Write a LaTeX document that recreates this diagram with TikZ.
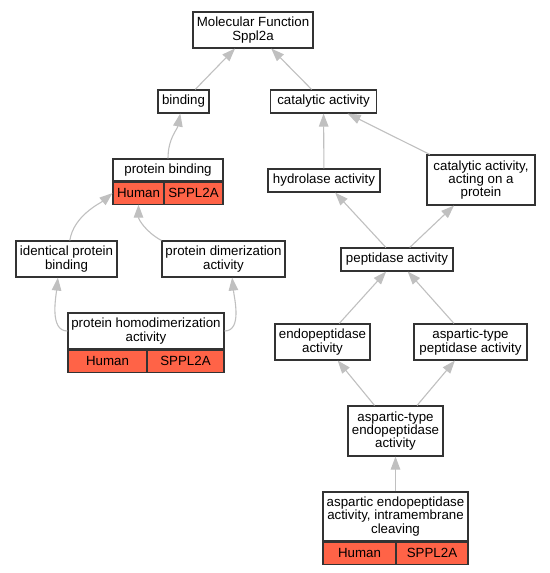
\documentclass[tikz,border=0pt]{standalone}
\usepackage{fontspec}
\setmainfont{Liberation Sans}
\usetikzlibrary{arrows.meta,positioning}
\definecolor{tomato}{RGB}{255,99,71}
\definecolor{edgegray}{RGB}{192,192,192}
\definecolor{boxline}{RGB}{51,51,51}
\tikzset{
  term/.style={draw=boxline,line width=1.1pt,fill=white,align=center,inner sep=0pt,
    font=\fontsize{13.3}{13.3}\selectfont},
  cell/.style={term,fill=tomato,minimum height=22},
  isa/.style={draw=edgegray,line width=1.1pt,-{Triangle[length=13pt,width=9.5pt]}}
}
\begin{document}
\begin{tikzpicture}[x=1pt,y=-1pt]
		\fill[white] (0,0) rectangle (549,573);
		\useasboundingbox (0,0) rectangle (549,573);
		% terms
		\node[term,minimum width=120,minimum height=36] (mf) at (253,30) {Molecular Function\\Sppl2a};
		\node[term,minimum width=51,minimum height=23] (bind) at (183.5,101.5) {binding};
		\node[term,minimum width=106,minimum height=23] (cat) at (323.5,101.5) {catalytic activity};
		\node[term,minimum width=110,minimum height=22] (pb) at (168,170) {protein binding};
		\node[cell,minimum width=51,anchor=north west] (pbh) at (pb.south west) {Human};
		\node[cell,minimum width=59,anchor=north east] (pbs) at (pb.south east) {SPPL2A};
		\node[term,minimum width=112,minimum height=23] (hyd) at (324,180.5) {hydrolase activity};
		\node[term,minimum width=108,minimum height=50] (caa) at (481,180) {catalytic activity,\\acting on a\\protein};
		\node[term,minimum width=101,minimum height=36] (ipb) at (66.5,259) {identical protein\\binding};
		\node[term,minimum width=123,minimum height=36] (pdim) at (223.5,259) {protein dimerization\\activity};
		\node[term,minimum width=112,minimum height=23] (pep) at (397,259.5) {peptidase activity};
		\node[term,minimum width=156,minimum height=36] (phd) at (146,331) {protein homodimerization\\activity};
		\node[cell,minimum width=79,anchor=north west] (phdh) at (phd.south west) {Human};
		\node[cell,minimum width=77,anchor=north east] (phds) at (phd.south east) {SPPL2A};
		\node[term,minimum width=95,minimum height=36] (endo) at (322.5,342) {endopeptidase\\activity};
		\node[term,minimum width=113,minimum height=36] (atp) at (470.5,342) {aspartic-type\\peptidase activity};
		\node[term,minimum width=95,minimum height=50] (ate) at (395.5,431) {aspartic-type\\endopeptidase\\activity};
		\node[term,minimum width=145,minimum height=49] (aic) at (395.5,516.5) {aspartic endopeptidase\\activity, intramembrane\\cleaving};
		\node[cell,minimum width=73,anchor=north west] (aich) at (aic.south west) {Human};
		\node[cell,minimum width=72,anchor=north east] (aics) at (aic.south east) {SPPL2A};
		% is_a links
		\draw[isa] (bind) -- (mf);
		\draw[isa] (cat) -- (mf);
		\draw[isa] (pb.north) .. controls +(0,-20) and +(-3,16) .. (bind.255);
		\draw[isa] (hyd) -- (cat);
		\draw[isa] (caa) -- (cat);
		\draw[isa] (ipb.80) .. controls +(4,-25) and +(-12,10) .. (pbh.west);
		\draw[isa] (pdim.north west) .. controls +(-15,-8) and +(0,15) .. (pbh.south);
		\draw[isa] (phd.west) .. controls +(-18,0) and +(-2,20) .. (ipb.245);
		\draw[isa] (phd.east) .. controls +(18,0) and +(2,20) .. (pdim.295);
		\draw[isa] (pep) -- (hyd);
		\draw[isa] (pep) -- (caa);
		\draw[isa] (endo) -- (pep);
		\draw[isa] (atp) -- (pep);
		\draw[isa] (ate) -- (endo);
		\draw[isa] (ate) -- (atp);
		\draw[isa] (aic) -- (ate);
\end{tikzpicture}
\end{document}
